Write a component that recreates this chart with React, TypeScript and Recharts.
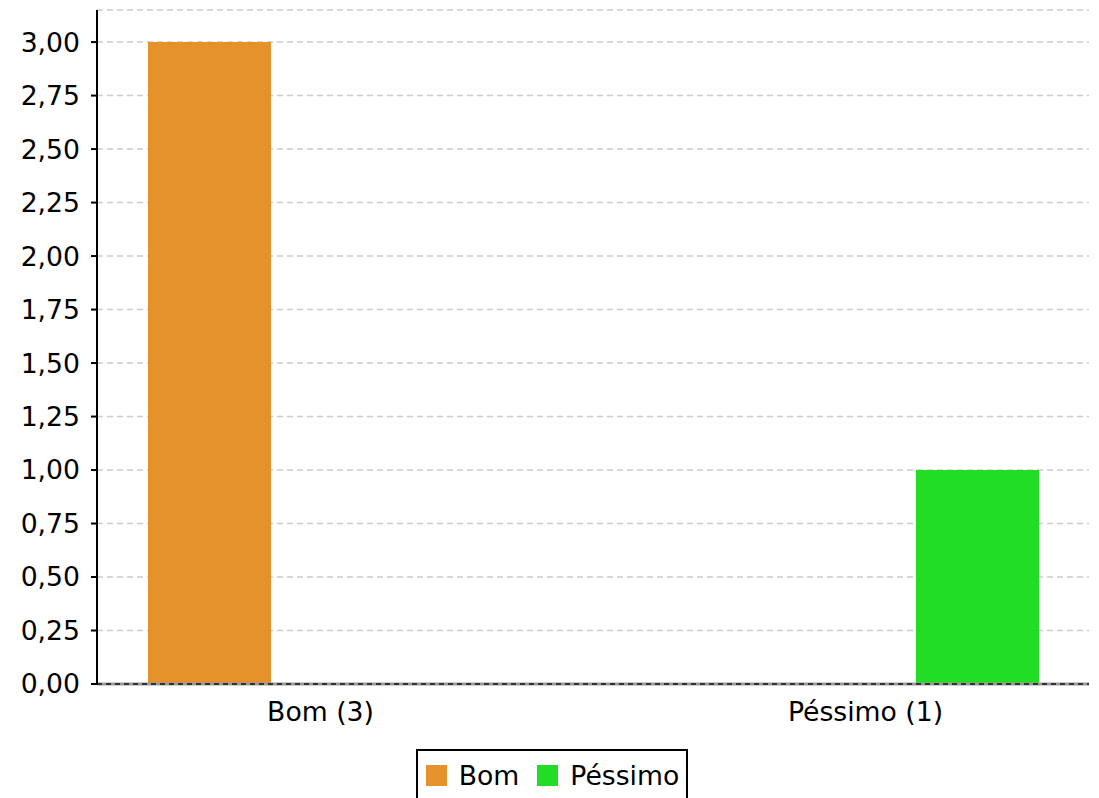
import React from 'react';
import { BarChart, Bar, XAxis, YAxis, CartesianGrid, Legend, ReferenceLine } from 'recharts';

const categories = ['Bom (3)', 'Péssimo (1)'];
const seriesNames = ['Bom', 'Péssimo'];
const bomValues = [3, 0];
const pessimoValues = [0, 1];
const seriesColors = ['#E5922C', '#22DD26'];
const yTicks = [0, 0.25, 0.5, 0.75, 1, 1.25, 1.5, 1.75, 2, 2.25, 2.5, 2.75, 3];

const data = categories.map((c, i) => ({
  name: c,
  [seriesNames[0]]: bomValues[i],
  [seriesNames[1]]: pessimoValues[i],
}));

const FONT = 'DejaVu Sans';
const FS = 26.67;

const fmt = (v: number) => v.toFixed(2).replace('.', ',');

const renderLegend = (props: any) => {
  const payload = props.payload || [];
  return (
    <div style={{ display: 'flex', justifyContent: 'center', width: 1099 }}>
      <div
        style={{
          display: 'flex',
          alignItems: 'center',
          border: '2px solid #000',
          padding: '9px 7px 20px 8px',
          marginLeft: 5,
          fontFamily: FONT,
          fontSize: FS,
          color: '#000',
          background: '#fff',
        }}
      >
        {payload.map((p: any, i: number) => (
          <div key={i} style={{ display: 'flex', alignItems: 'center', marginLeft: i ? 18 : 0 }}>
            <span style={{ width: 21, height: 21, background: p.color, display: 'inline-block', marginRight: 12 }} />
            <span>{p.value}</span>
          </div>
        ))}
      </div>
    </div>
  );
};

export default function App() {
  return (
    <div style={{ position: 'absolute', left: 0, top: 0, width: 1099, height: 798, overflow: 'hidden', background: '#fff' }}>
      <BarChart
        width={1099}
        height={798}
        data={data}
        margin={{ top: 10, right: 10, left: 0, bottom: 60 }}
        barSize={123}
        barGap={100}
      >
        <CartesianGrid vertical={false} stroke="#cccccc" strokeDasharray="6 4" strokeWidth={1.5} />
        <ReferenceLine y={0} stroke="#9a9a9a" strokeWidth={3} />
        <XAxis
          dataKey="name"
          padding={{ left: -49, right: -49 }}
          axisLine={{ stroke: '#333', strokeWidth: 2, strokeDasharray: '5 4' }}
          tickLine={false}
          tickSize={6}
          tickMargin={12}
          height={54}
          tick={{ fill: '#000', fontSize: FS, fontFamily: FONT }}
        />
        <YAxis
          width={97}
          domain={[0, 3.15]}
          ticks={yTicks}
          interval={0}
          tickFormatter={fmt}
          axisLine={{ stroke: '#000', strokeWidth: 2 }}
          tickLine={{ stroke: '#000', strokeWidth: 2 }}
          tickSize={6}
          tickMargin={11}
          tick={{ fill: '#000', fontSize: FS, fontFamily: FONT }}
        />
        <Legend
          layout="vertical"
          align="center"
          verticalAlign="middle"
          content={renderLegend}
          wrapperStyle={{ top: 749, left: 0, width: 1099 }}
        />
        {seriesNames.map((s, i) => (
          <Bar key={s} dataKey={s} fill={seriesColors[i]} isAnimationActive={false} />
        ))}
      </BarChart>
    </div>
  );
}
